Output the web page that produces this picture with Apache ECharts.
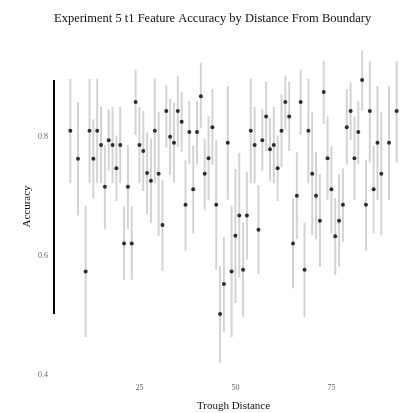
<!DOCTYPE html>
<html>
<head>
<meta charset="utf-8">
<script src="https://cdn.jsdelivr.net/npm/echarts@6/dist/echarts.min.js"></script>
<style>html,body{margin:0;padding:0;background:#fff}#c{width:401px;height:413px}</style>
</head>
<body>
<div id="c"></div>
<script>
// Trough distance (x)
const distance = [7,9,11,12,13,14,15,16,17,18,19,20,21,22,23,24,25,26,27,28,29,30,31,32,
  33,34,35,36,37,38,39,40,41,42,43,44,45,46,47,48,49,50,51,52,53,54,55,56,57,58,59,60,61,
  62,63,64,65,66,67,68,69,70,71,72,73,74,75,76,77,78,79,80,81,82,83,84,85,86,87,88,90,92];
// Accuracy (point estimate)
const accuracy = [0.810,0.763,0.574,0.810,0.763,0.810,0.786,0.716,0.794,0.786,0.747,0.786,0.621,0.716,0.621,0.858,0.786,0.776,0.739,0.726,0.810,0.738,0.652,0.843,
  0.800,0.790,0.843,0.825,0.686,0.808,0.712,0.808,0.868,0.738,0.764,0.816,0.686,0.503,0.553,0.790,0.574,0.634,0.668,0.577,0.668,0.810,0.786,0.644,0.794,0.834,0.779,0.786,0.747,
  0.810,0.858,0.834,0.621,0.701,0.858,0.577,0.810,0.738,0.701,0.659,0.875,0.764,0.712,0.633,0.659,0.686,0.816,0.843,0.764,0.808,0.895,0.686,0.843,0.712,0.790,0.738,0.790,0.843];
// Lower bound of interval
const lower = [0.722,0.668,0.464,0.722,0.696,0.722,0.722,0.645,0.743,0.722,0.692,0.722,0.560,0.645,0.560,0.803,0.722,0.709,0.670,0.655,0.722,0.634,0.575,0.782,
  0.736,0.723,0.783,0.774,0.609,0.754,0.638,0.754,0.814,0.678,0.694,0.753,0.577,0.421,0.473,0.694,0.464,0.521,0.564,0.498,0.594,0.722,0.722,0.570,0.743,0.776,0.726,0.722,0.692,
  0.749,0.812,0.776,0.546,0.628,0.803,0.498,0.722,0.635,0.628,0.582,0.822,0.694,0.638,0.568,0.582,0.624,0.753,0.794,0.694,0.754,0.844,0.609,0.757,0.638,0.694,0.635,0.694,0.757];
// Upper bound of interval
const upper = [0.897,0.858,0.684,0.897,0.829,0.897,0.850,0.786,0.846,0.850,0.802,0.850,0.683,0.786,0.683,0.912,0.850,0.843,0.807,0.797,0.897,0.842,0.727,0.887,
  0.864,0.857,0.902,0.875,0.761,0.860,0.785,0.860,0.924,0.797,0.834,0.880,0.794,0.583,0.632,0.885,0.684,0.746,0.773,0.656,0.741,0.897,0.850,0.719,0.846,0.892,0.831,0.850,0.802,
  0.871,0.902,0.892,0.696,0.774,0.912,0.656,0.897,0.841,0.774,0.737,0.927,0.834,0.785,0.697,0.737,0.747,0.880,0.891,0.834,0.860,0.945,0.761,0.927,0.785,0.885,0.841,0.885,0.927];
const xTicks = [25, 50, 75];
const yTicks = [0.4, 0.6, 0.8];

const pts = distance.map((d, i) => [d, accuracy[i]]);
const bars = distance.map((d, i) => [d, lower[i], upper[i]]);
const X_MIN = 2.75, X_MAX = 96.25, Y_MIN = 0.395, Y_MAX = 0.971;
const yLo = Math.min(...accuracy), yHi = Math.max(...accuracy);

const FONT = 'Liberation Serif';
const chart = echarts.init(document.getElementById('c'), null, {renderer: 'canvas'});
chart.setOption({
  animation: false,
  backgroundColor: '#fff',
  title: {
    text: 'Experiment 5 t1 Feature Accuracy by Distance From Boundary',
    left: 54, top: 12, padding: 0,
    textStyle: {fontFamily: FONT, fontWeight: 'normal', fontSize: 12.5, color: '#111'}
  },
  grid: {left: 54, top: 34.7, width: 359, bottom: 34.7, containLabel: false, outerBoundsMode: 'none'},
  xAxis: {
    type: 'value', min: X_MIN, max: X_MAX,
    name: 'Trough Distance', nameLocation: 'middle', nameGap: 22, nameMoveOverlap: false,
    nameTextStyle: {fontFamily: FONT, fontSize: 11, color: '#111'},
    axisLine: {show: false}, axisTick: {show: false}, splitLine: {show: false},
    axisLabel: {customValues: xTicks, fontFamily: FONT, fontSize: 8, color: '#666', margin: 6}
  },
  yAxis: {
    type: 'value', min: Y_MIN, max: Y_MAX,
    name: 'Accuracy', nameLocation: 'middle', nameGap: 21, nameMoveOverlap: false,
    nameTextStyle: {fontFamily: FONT, fontSize: 11, color: '#111'},
    axisLine: {show: false}, axisTick: {show: false}, splitLine: {show: false},
    axisLabel: {customValues: yTicks, fontFamily: FONT, fontSize: 8, color: '#666', margin: 6,
      formatter: v => v.toFixed(1)}
  },
  series: [
    {
      type: 'custom', data: [[X_MIN, yLo, yHi]], silent: true, z: 1,
      renderItem: (params, api) => {
        const a = api.coord([api.value(0), api.value(1)]);
        const b = api.coord([api.value(0), api.value(2)]);
        return {type: 'line', shape: {x1: a[0], y1: a[1], x2: b[0], y2: b[1]},
          style: {stroke: '#000', lineWidth: 2}};
      }
    },
    {
      type: 'custom', data: bars, silent: true, z: 2,
      renderItem: (params, api) => {
        const a = api.coord([api.value(0), api.value(1)]);
        const b = api.coord([api.value(0), api.value(2)]);
        return {type: 'line', shape: {x1: a[0], y1: a[1], x2: b[0], y2: b[1]},
          style: {stroke: '#d3d3d3', lineWidth: 2}};
      }
    },
    {
      type: 'scatter', data: pts, symbolSize: 4, z: 3,
      itemStyle: {color: '#000'}
    }
  ]
});
</script>
</body>
</html>
